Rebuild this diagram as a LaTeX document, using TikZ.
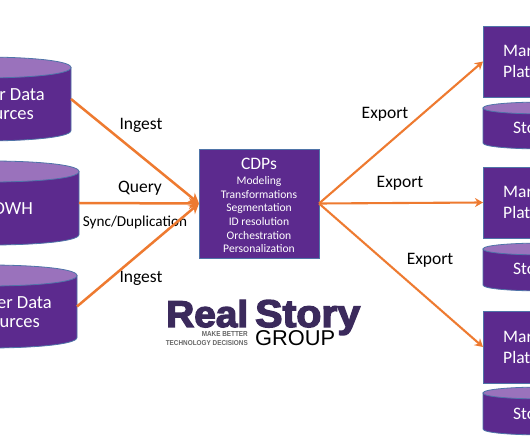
\documentclass[tikz,border=0pt]{standalone}
\usepackage{fontspec}
\usepackage{graphicx}
\usetikzlibrary{arrows.meta}
\setmainfont{Carlito}
\newfontfamily\logofont[FakeBold=3.5]{Liberation Sans}
\newfontfamily\logosmall{Liberation Sans}
\newfontfamily\logothin{Liberation Sans}
\definecolor{rsPurple}{HTML}{5C2A8E}
\definecolor{rsTop}{HTML}{9A72BC}
\definecolor{rsEdge}{HTML}{4F74A8}
\definecolor{rsOrange}{HTML}{EE7A30}
\definecolor{rsLogo}{HTML}{3B2A5C}
\tikzset{
  x=1pt,y=-1pt,
  anchorbox/.style={inner sep=0pt,outer sep=0pt},
  flatbox/.style={anchorbox,draw=rsEdge,fill=rsPurple,line width=0.8pt},
  cylbody/.style={fill=rsPurple,draw=rsEdge,line width=0.8pt},
  cyltop/.style={fill=rsTop,draw=rsEdge,line width=0.8pt},
  white text/.style={text=white,inner sep=0pt,font=\fontsize{17.5}{21}\selectfont},
  white large/.style={text=white,inner sep=0pt,font=\fontsize{18.5}{21}\selectfont},
  flowlabel/.style={text=black,inner sep=0pt,font=\fontsize{17.5}{20}\selectfont},
  smalllabel/.style={text=black,inner sep=0pt,font=\fontsize{15.2}{17}\selectfont},
  cdpitem/.style={text=white,inner sep=0pt,font=\fontsize{11.6}{14}\selectfont},
  flow/.style={draw=rsOrange,line width=2.5pt,-{Stealth[length=10pt,width=11pt]}},
  flowthin/.style={draw=rsOrange,line width=2.1pt,-{Stealth[length=8pt,width=9pt]}},
  logotext/.style={anchor=base west,inner sep=0pt},
}
% name, left, right, y of top ellipse centre, y of bottom ellipse centre, ry
\newcommand{\drumshape}[6]{%
  \pgfmathsetmacro{\dk}{1.333*#6}%
  \pgfmathsetmacro{\dcx}{(#2+#3)/2}%
  \pgfmathsetmacro{\dcy}{(#4+#5)/2}%
  \pgfmathsetmacro{\dw}{#3-#2}%
  \pgfmathsetmacro{\dh}{#5-#4}%
  \path[cylbody] (#2,#4) -- (#2,#5) .. controls (#2,#5+\dk) and (#3,#5+\dk) .. (#3,#5) -- (#3,#4) -- cycle;
  \path[cyltop] (#2,#4) .. controls (#2,#4-\dk) and (#3,#4-\dk) .. (#3,#4) .. controls (#3,#4+\dk) and (#2,#4+\dk) .. (#2,#4) -- cycle;
  \node[anchorbox,minimum width=\dw pt,minimum height=\dh pt] (#1) at (\dcx,\dcy) {};
}
\begin{document}
\begin{tikzpicture}
\useasboundingbox (0,0) rectangle (530,443);
\clip (0,0) rectangle (530,443);
\fill[white] (0,0) rectangle (530,443);

\drumshape{srcA}{-105}{71}{67.5}{130.5}{10.5}
\drumshape{srcB}{-97}{79}{171.5}{234.5}{10.5}
\drumshape{srcC}{-99}{77}{275.5}{337.5}{10.5}

\node[flatbox,minimum width=120pt,minimum height=109pt] (cdp) at (259,203.5) {};

\node[flatbox,minimum width=124pt,minimum height=71pt] (mA) at (545,61.5) {};
\node[flatbox,minimum width=124pt,minimum height=71pt] (mB) at (545,202.5) {};
\node[flatbox,minimum width=124pt,minimum height=72pt] (mC) at (545,347) {};
\drumshape{stA}{483}{607}{108}{143}{6}
\drumshape{stB}{483}{607}{249}{285}{6}
\drumshape{stC}{483}{607}{393}{429}{6}

% cut-off texts
\node[white large,anchor=east] (tA1) at (45,95) {er Data};
\node[white large,anchor=east] (tA2) at (34,115.5) {ources};
\node[white large,anchor=east] (tB) at (33,209) {DWH};
\node[white large,anchor=east] (tC1) at (52,303) {er Data};
\node[white large,anchor=east] (tC2) at (40,323) {ources};
\foreach \nm/\ya/\yb/\yc in {A/51/71/128,B/192/212/269,C/337/357/414}{
  \node[white text,anchor=west] (m\nm a) at (503,\ya) {Mar};
  \node[white text,anchor=west] (m\nm b) at (503,\yb) {Plat};
  \node[white text,anchor=west] (s\nm) at (513,\yc) {Sto};
}

% CDP contents
\node[white text] (cdpT) at (259,164) {CDPs};
\node[cdpitem] (c1) at (259,181) {Modeling};
\node[cdpitem] (c2) at (259,194.5) {Transformations};
\node[cdpitem] (c3) at (259,208) {Segmentation};
\node[cdpitem] (c4) at (259,221.5) {ID resolution};
\node[cdpitem] (c5) at (259,235.5) {Orchestration};
\node[cdpitem] (c6) at (259,249) {Personalization};

% labels
\node[flowlabel] (l1) at (141,125) {Ingest};
\node[flowlabel] (l2) at (140,188) {Query};
\node[smalllabel] (l3) at (135,222.5) {Sync/Duplication};
\node[flowlabel] (l4) at (141,278) {Ingest};
\node[flowlabel] (l5) at (385,114.5) {Export};
\node[flowlabel] (l6) at (400,183) {Export};
\node[flowlabel] (l7) at (430,260) {Export};

% connectors
\draw[flow] (srcA.east) -- (cdp.west);
\draw[flow] (srcB.east) -- (cdp.west);
\draw[flow] (srcC.east) -- (cdp.west);
\draw[flowthin] (cdp.east) -- (mA.west);
\draw[flowthin] (cdp.east) -- (mB.west);
\draw[flowthin] (cdp.east) -- (mC.west);

% logo
\node[logotext,text=rsLogo] (logoA) at (166,327) {\resizebox{82pt}{27pt}{\logofont\bfseries Real}};
\node[logotext,text=rsLogo] (logoB) at (255,327) {\resizebox{105pt}{27pt}{\logofont\bfseries Story}};
\node[logotext,text=black] (logoC) at (255,346) {\resizebox{80pt}{15pt}{\logothin GROUP}};
\node[anchor=base east,inner sep=0pt,text=black!60] (logoD) at (248,337) {\resizebox{46pt}{5pt}{\logosmall\bfseries MAKE BETTER}};
\node[anchor=base east,inner sep=0pt,text=black!60] (logoE) at (248,345) {\resizebox{82pt}{5pt}{\logosmall\bfseries TECHNOLOGY DECISIONS}};
\end{tikzpicture}
\end{document}
